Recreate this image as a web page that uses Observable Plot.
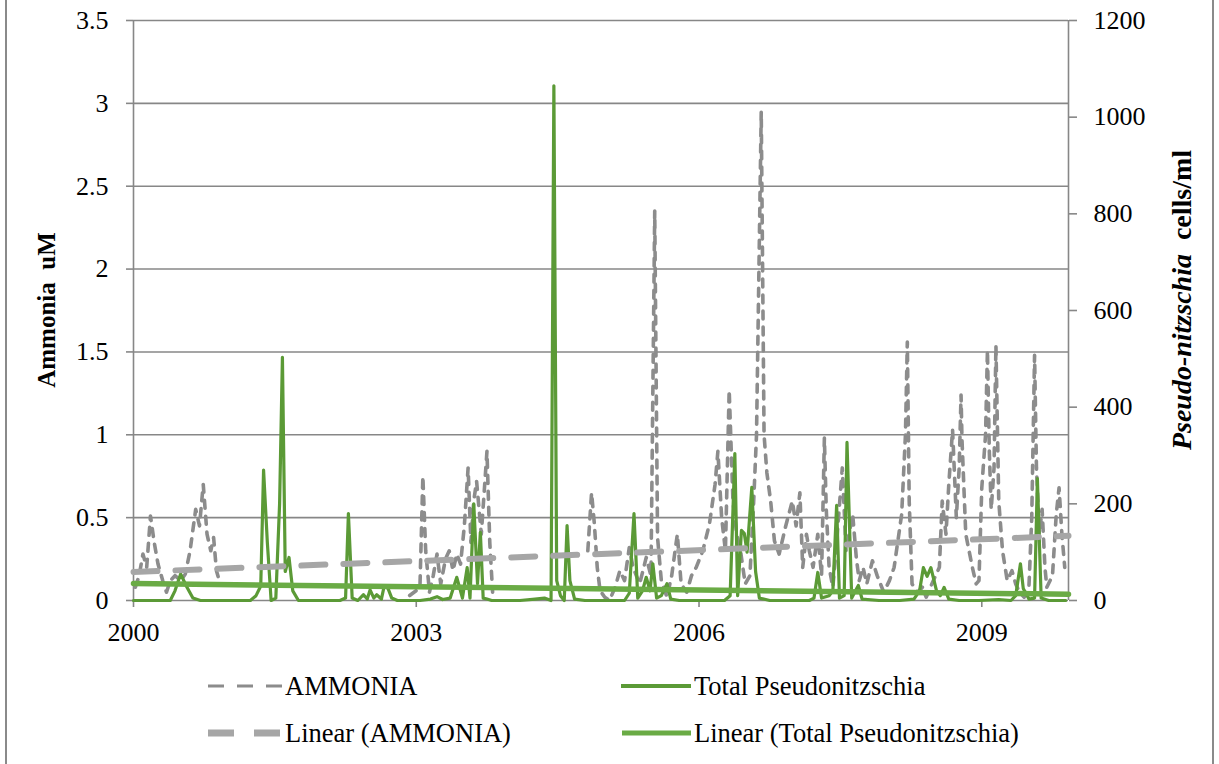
<!DOCTYPE html>
<html><head><meta charset="utf-8">
<script src="https://cdn.jsdelivr.net/npm/d3@7"></script>
<script src="https://cdn.jsdelivr.net/npm/@observablehq/plot@0.6"></script>
<style>
body{margin:0;background:#fff;}
#wrap{position:relative;width:1219px;height:764px;overflow:hidden;font-family:"Liberation Serif","Times New Roman",serif;}
#frame{position:absolute;left:5px;top:-3px;width:1209px;height:770px;border:2px solid #8a8a8a;box-sizing:border-box;}
#chart{position:absolute;left:0;top:0;}
#legend{position:absolute;left:0;top:650px;}
</style></head><body>
<div id="wrap"><div id="frame"></div><div id="chart"></div><div id="legend"></div></div>
<script>
// ---- data ----
const xTicks = [2000, 2003, 2006, 2009];
const xStart = 2000, xEnd = 2009.92;
const leftTicks = [0, 0.5, 1, 1.5, 2, 2.5, 3, 3.5];
const rightTicks = [0, 200, 400, 600, 800, 1000, 1200];

const ammoniaDates = [
2000.02,2000.06,2000.10,2000.14,2000.18,2000.22,2000.26,2000.31,2000.35,2000.39,2000.44,2000.50,2000.55,2000.60,2000.66,2000.70,2000.74,2000.78,2000.82,2000.85,2000.88,2000.92,
2001.50,
2002.93,2003.00,2003.04,2003.07,2003.10,2003.14,2003.18,2003.22,2003.26,2003.31,2003.35,2003.39,2003.43,2003.47,2003.51,2003.55,2003.58,2003.61,2003.64,2003.69,2003.75,2003.78,2003.81,
2004.30,
2004.82,2004.86,2004.89,2004.92,2004.95,2005.00,2005.05,2005.11,2005.16,2005.21,2005.26,2005.30,2005.37,2005.44,2005.49,2005.53,2005.56,2005.60,2005.66,2005.71,2005.77,2005.81,2005.87,2005.92,2005.97,
2006.04,2006.11,2006.17,2006.20,2006.24,2006.28,2006.32,2006.36,2006.40,2006.44,2006.49,2006.54,2006.58,2006.61,2006.66,2006.69,2006.72,2006.76,2006.80,2006.85,2006.92,2006.99,
2007.03,2007.07,2007.10,2007.14,2007.17,2007.21,2007.26,2007.30,2007.33,2007.35,2007.38,2007.42,2007.46,2007.52,2007.56,2007.63,2007.67,2007.70,2007.74,2007.78,2007.84,2007.89,2007.96,
2008.02,2008.07,2008.15,2008.19,2008.21,2008.23,2008.26,2008.32,2008.37,2008.41,2008.47,2008.55,2008.58,2008.62,2008.65,2008.69,2008.73,2008.76,2008.78,2008.79,2008.83,2008.90,2008.94,2008.97,
2009.00,2009.04,2009.06,2009.08,2009.10,2009.13,2009.15,2009.18,2009.22,2009.27,2009.32,2009.36,2009.40,2009.45,2009.50,2009.53,2009.56,2009.58,2009.61,2009.64,2009.67,2009.69,2009.75,2009.79,2009.82,2009.85,2009.88
];
const ammoniaValues = [
0.08,0.15,0.28,0.20,0.51,0.35,0.22,0.12,0.05,0.12,0.15,0.12,0.16,0.30,0.55,0.45,0.70,0.40,0.30,0.38,0.18,0.10,
null,
0.03,0.06,0.10,0.75,0.30,0.05,0.15,0.28,0.10,0.25,0.30,0.18,0.28,0.22,0.45,0.80,0.35,0.60,0.72,0.40,0.90,0.35,0.05,
null,
0.30,0.65,0.46,0.20,0.06,0.02,0.00,0.08,0.18,0.12,0.32,0.20,0.10,0.26,0.15,2.35,0.38,0.12,0.02,0.15,0.40,0.10,0.05,0.15,0.20,
0.30,0.46,0.70,0.90,0.50,0.30,1.27,0.60,0.40,0.30,0.10,0.15,0.60,1.00,2.95,1.00,0.77,0.60,0.36,0.28,0.45,0.60,
0.45,0.65,0.20,0.40,0.30,0.20,0.40,0.15,0.98,0.55,0.20,0.08,0.35,0.80,0.30,0.52,0.25,0.12,0.20,0.10,0.24,0.15,0.05,
0.12,0.20,0.52,1.00,1.56,0.60,0.10,0.05,0.08,0.02,0.10,0.20,0.60,0.40,0.70,1.03,0.50,0.80,1.24,0.97,0.40,0.20,0.10,0.12,
0.68,1.00,1.51,0.90,0.55,0.80,1.54,0.60,0.30,0.12,0.18,0.10,0.05,0.02,0.08,0.50,1.48,0.80,0.40,0.55,0.20,0.08,0.15,0.52,0.68,0.40,0.20
];

const pnDates = [
2000.00,2000.18,2000.39,2000.44,2000.50,2000.56,2000.63,2000.71,2000.82,2001.03,2001.24,2001.30,2001.35,2001.38,2001.42,2001.46,2001.51,2001.55,2001.58,2001.61,2001.65,2001.69,2001.75,2001.98,
2002.19,2002.25,2002.28,2002.32,2002.38,2002.44,2002.48,2002.51,2002.55,2002.58,2002.63,2002.66,2002.70,2002.74,2002.80,
2003.04,2003.15,2003.22,2003.28,2003.36,2003.43,2003.49,2003.54,2003.57,2003.61,2003.65,2003.68,2003.71,2003.75,2003.80,2003.89,
2004.10,2004.26,2004.36,2004.43,2004.46,2004.49,2004.53,2004.57,2004.60,2004.63,2004.68,2004.79,
2005.05,2005.21,2005.26,2005.31,2005.35,2005.40,2005.44,2005.48,2005.51,2005.55,2005.60,2005.66,2005.70,2005.79,
2006.01,2006.27,2006.33,2006.38,2006.41,2006.45,2006.48,2006.51,2006.56,2006.60,2006.64,2006.75,2006.96,
2007.17,2007.22,2007.26,2007.30,2007.38,2007.42,2007.46,2007.49,2007.54,2007.57,2007.62,2007.66,2007.69,2007.73,2007.91,
2008.13,2008.28,2008.34,2008.38,2008.42,2008.46,2008.52,2008.56,2008.60,2008.65,2008.76,2008.97,
2009.18,2009.31,2009.36,2009.41,2009.44,2009.50,2009.56,2009.59,2009.63,2009.71,2009.89
];
const pnCells = [
0,0,0,20,55,30,5,0,0,0,0,10,30,270,120,0,5,200,503,60,89,20,0,0,
0,5,180,5,0,12,3,22,5,12,3,30,25,5,0,
0,3,8,2,5,48,5,68,5,200,35,141,5,3,0,0,
0,3,5,0,1065,41,10,0,155,41,3,0,
0,0,15,180,5,20,48,20,76,5,10,35,3,0,
0,0,10,304,10,145,139,100,234,60,5,0,0,
0,5,58,5,10,20,197,5,10,327,5,20,31,3,0,
0,3,20,68,50,68,20,10,27,3,0,0,
2,0,10,76,25,3,5,252,5,0,0
];

// linear trend endpoints
const trendYears = [2000.0, 2009.92];
const ammoniaTrend = [0.172, 0.39];
const pnTrend = [35, 13];

// ---- build ----
const k = 3.5 / 1200; // cells -> left-axis units
const ammData = ammoniaDates.map((d, i) => ({x: d, y: ammoniaValues[i]}));
const pnData = pnDates.map((d, i) => ({x: d, y: pnCells[i] == null ? null : pnCells[i] * k}));
const ammTrendData = trendYears.map((d, i) => ({x: d, y: ammoniaTrend[i]}));
const pnTrendData = trendYears.map((d, i) => ({x: d, y: pnTrend[i] * k}));

const gridColor = "#878787";
const cAmm = "#8c8c8c", cAmmTrend = "#a6a6a6", cPn = "#5b9a36", cPnTrend = "#6aab45";
const FS = 26;
const LFS = 26.5;

const plot = Plot.plot({
  width: 1219, height: 650,
  marginLeft: 133, marginRight: 151, marginTop: 20, marginBottom: 50,
  style: {fontFamily: "Liberation Serif", fontSize: FS + "px", color: "#000", background: "transparent", overflow: "visible"},
  x: {domain: [xStart, xEnd], axis: null},
  y: {domain: [0, 3.5], axis: null},
  marks: [
    Plot.gridY(leftTicks, {stroke: gridColor, strokeOpacity: 1, strokeWidth: 1.6}),
    Plot.ruleX([xStart, xEnd], {stroke: gridColor, strokeWidth: 1.6}),
    Plot.axisY({anchor: "left", ticks: leftTicks, tickSize: 7, tickPadding: 18, tickFormat: d => String(d), stroke: gridColor, strokeWidth: 1.6, fontSize: FS, label: null}),
    Plot.axisY({anchor: "right", ticks: rightTicks.map(c => c * k), tickSize: 8, tickPadding: 17, tickFormat: d => String(Math.round(d / k)), stroke: gridColor, strokeWidth: 1.6, fontSize: FS, label: null}),
    Plot.axisX({anchor: "bottom", ticks: xTicks, tickSize: 7, tickPadding: 15, tickFormat: d => String(d), stroke: gridColor, strokeWidth: 1.6, fontSize: FS, label: null}),
    Plot.line(ammData, {x: "x", y: "y", stroke: cAmm, strokeWidth: 3.6, strokeDasharray: "8,8", strokeLinecap: "round"}),
    Plot.line(pnData, {x: "x", y: "y", stroke: cPn, strokeWidth: 3.2, strokeLinejoin: "round"}),
    // soft shadows under the trend lines
    Plot.line(ammTrendData, {x: "x", y: "y", dy: 4, stroke: "#000", strokeOpacity: 0.13, strokeWidth: 9, strokeDasharray: "24,18", ariaLabel: "shadow"}),
    Plot.line(pnTrendData, {x: "x", y: "y", dy: 4, stroke: "#000", strokeOpacity: 0.13, strokeWidth: 8, ariaLabel: "shadow"}),
    Plot.line(ammTrendData, {x: "x", y: "y", stroke: cAmmTrend, strokeWidth: 6, strokeDasharray: "24,18"}),
    Plot.line(pnTrendData, {x: "x", y: "y", stroke: cPnTrend, strokeWidth: 5.5})
  ]
});
document.getElementById("chart").appendChild(plot);

const svg = d3.select(plot);
// blur filter for the shadow marks
const defs = svg.insert("defs", ":first-child");
const f = defs.append("filter").attr("id", "softblur").attr("filterUnits", "userSpaceOnUse")
  .attr("x", 0).attr("y", 0).attr("width", 1219).attr("height", 650);
f.append("feGaussianBlur").attr("stdDeviation", 2);
svg.selectAll('g[aria-label="shadow"]').attr("filter", "url(#softblur)");

// axis titles
svg.append("text")
  .attr("transform", "translate(46,310) rotate(-90)")
  .attr("text-anchor", "middle").attr("dy", "0.35em")
  .style("font-weight", "bold").style("font-size", "25px")
  .text("Ammonia\u00a0\u00a0uM");
const rt = svg.append("text")
  .attr("transform", "translate(1181,300) rotate(-90)")
  .attr("text-anchor", "middle").attr("dy", "0.35em")
  .style("font-weight", "bold").style("font-size", "28px");
rt.append("tspan").style("font-style", "italic").text("Pseudo-nitzschia");
rt.append("tspan").text("\u00a0\u00a0cells/ml");

// legend
const legendItems = [
  {label: "AMMONIA", color: cAmm, width: 3, dash: "16,13", x: 208, x2: 282, tx: 285, row: 0},
  {label: "Total Pseudonitzschia", color: cPn, width: 4, dash: null, x: 621, x2: 691, tx: 694, row: 0},
  {label: "Linear (AMMONIA)", color: cAmmTrend, width: 7, dash: "26,20", x: 208, x2: 280, tx: 285, row: 1},
  {label: "Linear (Total Pseudonitzschia)", color: cPnTrend, width: 5, dash: null, x: 622, x2: 691, tx: 694, row: 1}
];
const lg = d3.select("#legend").append("svg").attr("width", 1219).attr("height", 114)
  .style("font-family", "Liberation Serif").style("font-size", LFS + "px");
legendItems.forEach(it => {
  const cy = 36 + it.row * 47;
  lg.append("line").attr("x1", it.x).attr("x2", it.x2).attr("y1", cy).attr("y2", cy)
    .attr("stroke", it.color).attr("stroke-width", it.width)
    .attr("stroke-dasharray", it.dash);
  lg.append("text").attr("x", it.tx).attr("y", cy).attr("dy", "0.35em").attr("fill", "#000").text(it.label);
});
</script>
</body></html>
